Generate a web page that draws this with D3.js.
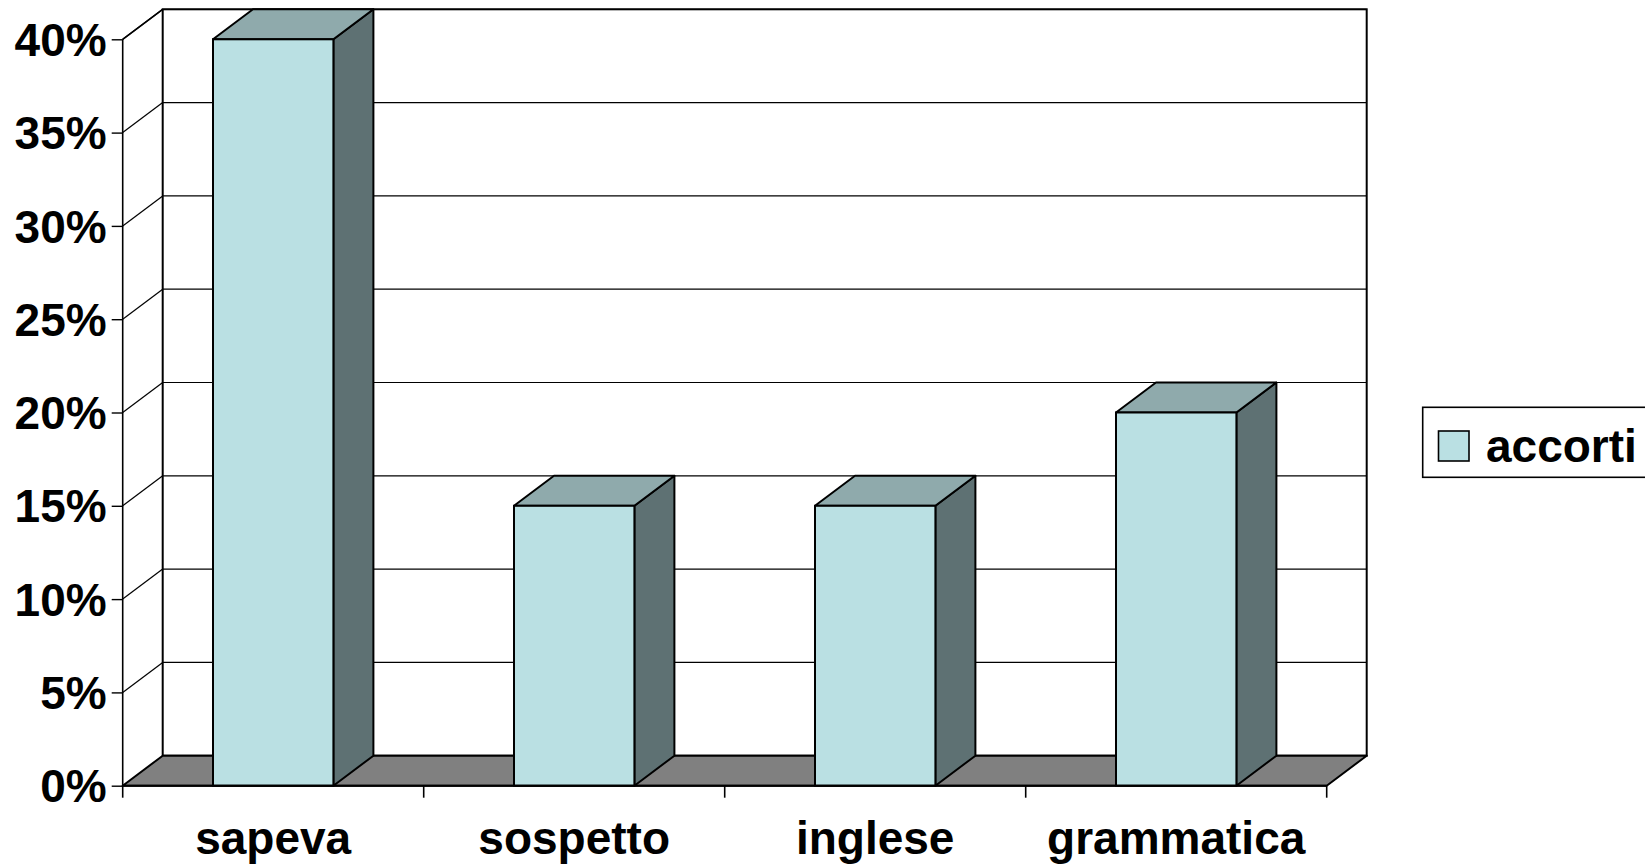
<!DOCTYPE html>
<html>
<head>
<meta charset="utf-8">
<script src="https://cdn.jsdelivr.net/npm/d3@7"></script>
<style>
  html, body { margin: 0; padding: 0; background: #fff; }
  svg { display: block; }
  text { font-family: "Liberation Sans", Arial, sans-serif; font-weight: bold; fill: #000; }
</style>
</head>
<body>
<svg id="chart" width="1645" height="867"></svg>
<script>
const categories = ["sapeva", "sospetto", "inglese", "grammatica"];
const seriesName = "accorti";
const values = [0.40, 0.15, 0.15, 0.20];
const yTicks = [0, 0.05, 0.10, 0.15, 0.20, 0.25, 0.30, 0.35, 0.40];

const colors = { front: "#BAE0E3", top: "#8FAAAC", side: "#5E7173", floor: "#808080" };
const DX = 40, DY = -30;

const svg = d3.select("#chart");
const x0 = 122.7, x1 = 1326.7, yBase = 785.7, yTop = 39.3;

const x = d3.scaleBand().domain(categories).range([x0, x1]).paddingInner(0.6).paddingOuter(0.3);
const y = d3.scaleLinear().domain([0, 0.4]).range([yBase, yTop]);

const g = svg.append("g");

// back wall
g.append("rect")
  .attr("x", x0 + DX).attr("y", yTop + DY)
  .attr("width", x1 - x0).attr("height", yBase - yTop)
  .attr("fill", "#fff").attr("stroke", "none");

// gridlines on back wall and left wall
yTicks.forEach(t => {
  if (t === 0) return;
  g.append("line")
    .attr("x1", x0 + DX).attr("x2", x1 + DX)
    .attr("y1", y(t) + DY).attr("y2", y(t) + DY)
    .attr("stroke", "#000").attr("stroke-width", 1.2);
  g.append("line")
    .attr("x1", x0).attr("x2", x0 + DX)
    .attr("y1", y(t)).attr("y2", y(t) + DY)
    .attr("stroke", "#000").attr("stroke-width", 1.2);
});

// back wall border
g.append("rect")
  .attr("x", x0 + DX).attr("y", yTop + DY)
  .attr("width", x1 - x0).attr("height", yBase - yTop)
  .attr("fill", "none").attr("stroke", "#000").attr("stroke-width", 2);

// floor
const floorPts = [[x0, yBase], [x1, yBase], [x1 + DX, yBase + DY], [x0 + DX, yBase + DY]];
g.append("polygon")
  .attr("points", floorPts.map(p => p.join(",")).join(" "))
  .attr("fill", colors.floor).attr("stroke", "#000").attr("stroke-width", 2).attr("stroke-linejoin", "round");

// left wall edges
g.append("line").attr("x1", x0).attr("x2", x0).attr("y1", yTop).attr("y2", yBase)
  .attr("stroke", "#000").attr("stroke-width", 1.6);
g.append("line").attr("x1", x0).attr("x2", x0 + DX).attr("y1", yTop).attr("y2", yTop + DY)
  .attr("stroke", "#000").attr("stroke-width", 1.6);

// bars
const bars = g.selectAll("g.bar").data(categories.map((c, i) => ({ c, v: values[i] })))
  .enter().append("g").attr("class", "bar");

bars.each(function(d) {
  const b = d3.select(this);
  const L = x(d.c), R = x(d.c) + x.bandwidth(), T = y(d.v), B = y(0);
  const sw = 2;
  // side
  b.append("polygon")
    .attr("points", [[R, T], [R + DX, T + DY], [R + DX, B + DY], [R, B]].map(p => p.join(",")).join(" "))
    .attr("fill", colors.side).attr("stroke", "#000").attr("stroke-width", sw).attr("stroke-linejoin", "round");
  // top
  b.append("polygon")
    .attr("points", [[L, T], [R, T], [R + DX, T + DY], [L + DX, T + DY]].map(p => p.join(",")).join(" "))
    .attr("fill", colors.top).attr("stroke", "#000").attr("stroke-width", sw).attr("stroke-linejoin", "round");
  // front
  b.append("rect")
    .attr("x", L).attr("y", T).attr("width", R - L).attr("height", B - T)
    .attr("fill", colors.front).attr("stroke", "#000").attr("stroke-width", sw);
});

// front baseline
g.append("line").attr("x1", x0).attr("x2", x1).attr("y1", yBase).attr("y2", yBase)
  .attr("stroke", "#000").attr("stroke-width", 2);

// y axis
const yAxis = d3.axisLeft(y).tickValues(yTicks).tickFormat(d3.format(".0%")).tickSize(11).tickPadding(5);
const ya = svg.append("g").attr("transform", `translate(${x0},0)`).call(yAxis);
ya.select(".domain").remove();
ya.selectAll(".tick line").attr("stroke", "#000").attr("stroke-width", 1.4);
ya.selectAll(".tick text").attr("font-size", 46).attr("font-weight", "bold")
  .attr("font-family", "'Liberation Sans', Arial, sans-serif").attr("dy", "0.35em").attr("fill", "#000");

// x axis boundary ticks
const bounds = d3.range(categories.length + 1).map(i => x0 + i * x.step());
svg.selectAll("line.xtick").data(bounds).enter().append("line")
  .attr("class", "xtick")
  .attr("x1", d => d).attr("x2", d => d).attr("y1", yBase).attr("y2", yBase + 12)
  .attr("stroke", "#000").attr("stroke-width", 1.6);

// x labels
svg.selectAll("text.xlab").data(categories).enter().append("text")
  .attr("class", "xlab")
  .attr("x", d => x(d) + x.bandwidth() / 2)
  .attr("y", 854)
  .attr("text-anchor", "middle")
  .attr("font-size", 46)
  .text(d => d);

// legend
const lg = svg.append("g");
lg.append("rect").attr("x", 1422.7).attr("y", 407.3).attr("width", 240).attr("height", 70)
  .attr("fill", "#fff").attr("stroke", "#000").attr("stroke-width", 1.6);
lg.append("rect").attr("x", 1438.5).attr("y", 431).attr("width", 30.5).attr("height", 30)
  .attr("fill", colors.front).attr("stroke", "#000").attr("stroke-width", 1.6);
lg.append("text").attr("x", 1486).attr("y", 461.5).attr("font-size", 46).text(seriesName);
</script>
</body>
</html>
